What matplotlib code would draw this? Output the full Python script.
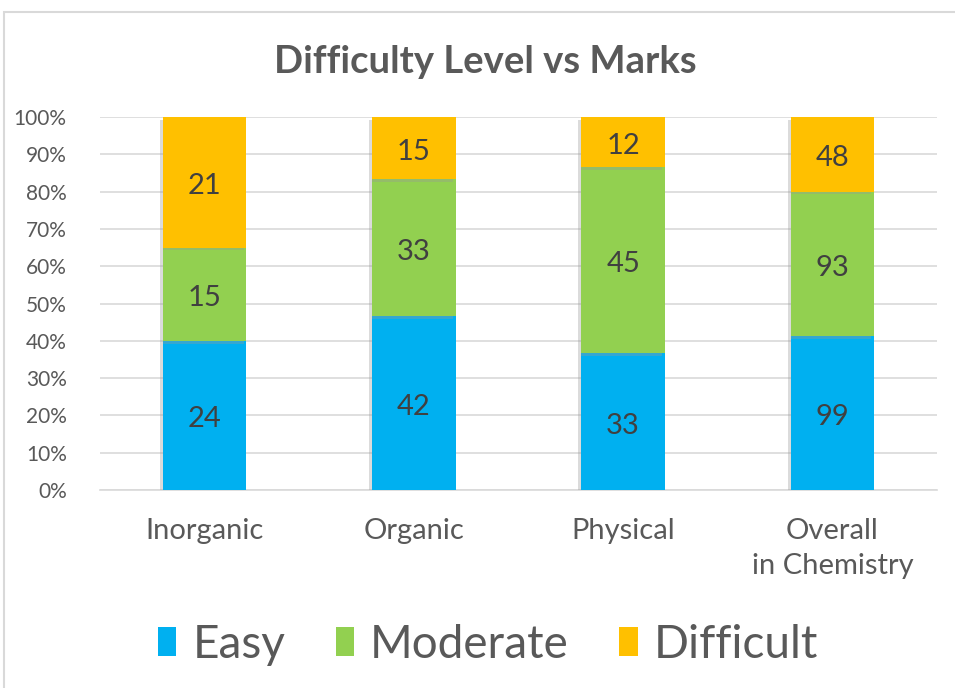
import matplotlib
matplotlib.use("Agg")
import matplotlib.pyplot as plt
import matplotlib.patheffects as pe
import matplotlib.transforms as mtransforms
from matplotlib.patches import Rectangle, Patch
import numpy as np

categories = ["Inorganic", "Organic", "Physical", "Overall\nin Chemistry"]
easy = [24, 42, 33, 99]
moderate = [15, 33, 45, 93]
difficult = [21, 15, 12, 48]
series_names = ["Easy", "Moderate", "Difficult"]
colors = ["#00B0F0", "#92D050", "#FFC000"]
yticks = [0, 10, 20, 30, 40, 50, 60, 70, 80, 90, 100]

text_color = "#595959"
plt.rcParams["font.family"] = ["Lato", "DejaVu Sans"]

fig = plt.figure(figsize=(9.55, 6.88), dpi=100)
fig.patches.append(Rectangle((4 / 955, -0.1), 1.2, 1 - 12 / 688 + 0.1, transform=fig.transFigure,
                             fill=False, ec="#D9D9D9", lw=1.5))
ax = fig.add_axes([100 / 955, 1 - 490 / 688, 837 / 955, 373 / 688])

data = np.array([easy, moderate, difficult], dtype=float)
totals = data.sum(axis=0)
pct = data / totals * 100
x = np.arange(len(categories))
bottom = np.zeros(len(categories))
shadow = [pe.SimplePatchShadow(offset=(-2, -2), shadow_rgbFace="#999999", alpha=0.35), pe.Normal()]
# nudge labels a few pixels down to sit like the original
label_tr = ax.transData + mtransforms.ScaledTranslation(0, -4 / 100, fig.dpi_scale_trans)
for vals, p, name, c in zip(data, pct, series_names, colors):
    bars = ax.bar(x, p, 0.4, bottom=bottom, color=c, zorder=3)
    for b in bars:
        b.set_path_effects(shadow)
    for xi, v, pv, bt in zip(x, vals, p, bottom):
        ax.text(xi, bt + pv / 2, f"{int(v)}", ha="center", va="center", fontsize=21,
                color="#404040", zorder=4, transform=label_tr)
    bottom += p

ax.set_xlim(-0.5, 3.5)
ax.set_ylim(0, 100)
ax.set_yticks(yticks)
ax.set_yticklabels([f"{t}%" for t in yticks])
ax.set_xticks(x)
ax.set_xticklabels(categories, linespacing=1.45, va="top")
ax.tick_params(axis="y", length=0, pad=24, labelsize=15, labelcolor=text_color)
ax.tick_params(axis="x", length=0, pad=20, labelsize=21, labelcolor=text_color)
ax.grid(axis="y", color="#D9D9D9", lw=1.2, zorder=0)
for s in ["top", "right", "left"]:
    ax.spines[s].set_visible(False)
ax.spines["bottom"].set_color("#D9D9D9")
ax.spines["bottom"].set_linewidth(1.2)

fig.text(485 / 955, 1 - 62 / 688, "Difficulty Level vs Marks", ha="center", va="center",
         fontsize=27.5, fontweight="bold", color=text_color)

handles = [Patch(fc=c, ec="none") for c in colors]
fig.legend(handles, series_names, loc="center", bbox_to_anchor=(488 / 955, 1 - 645 / 688), ncol=3,
           frameon=False, fontsize=33, handlelength=0.4, handleheight=0.6, handletextpad=0.35,
           columnspacing=1.1, labelcolor=text_color)

fig.savefig("out.png", dpi=100)
